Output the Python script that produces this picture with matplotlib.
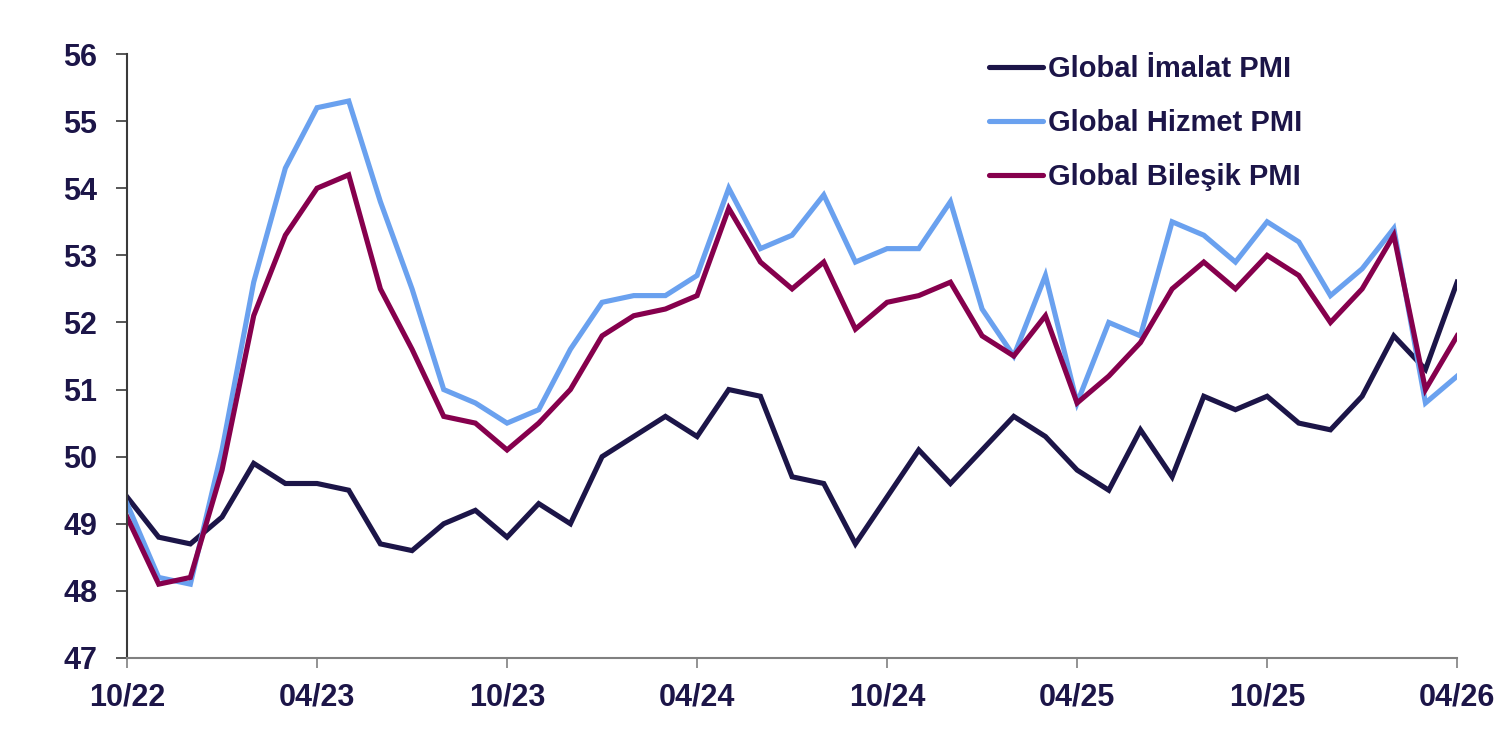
import matplotlib
matplotlib.use("Agg")
import matplotlib.pyplot as plt
import numpy as np

plt.rcParams['font.family'] = ['Liberation Sans', 'DejaVu Sans']

months = ["10/22","11/22","12/22","01/23","02/23","03/23","04/23","05/23","06/23","07/23","08/23","09/23",
          "10/23","11/23","12/23","01/24","02/24","03/24","04/24","05/24","06/24","07/24","08/24","09/24",
          "10/24","11/24","12/24","01/25","02/25","03/25","04/25","05/25","06/25","07/25","08/25","09/25",
          "10/25","11/25","12/25","01/26","02/26","03/26","04/26"]

imalat = [49.4, 48.8, 48.7, 49.1, 49.9, 49.6, 49.6, 49.5, 48.7, 48.6, 49.0, 49.2,
          48.8, 49.3, 49.0, 50.0, 50.3, 50.6, 50.3, 51.0, 50.9, 49.7, 49.6, 48.7,
          49.4, 50.1, 49.6, 50.1, 50.6, 50.3, 49.8, 49.5, 50.4, 49.7, 50.9, 50.7,
          50.9, 50.5, 50.4, 50.9, 51.8, 51.3, 52.6]
hizmet = [49.3, 48.2, 48.1, 50.1, 52.6, 54.3, 55.2, 55.3, 53.8, 52.5, 51.0, 50.8,
          50.5, 50.7, 51.6, 52.3, 52.4, 52.4, 52.7, 54.0, 53.1, 53.3, 53.9, 52.9,
          53.1, 53.1, 53.8, 52.2, 51.5, 52.7, 50.8, 52.0, 51.8, 53.5, 53.3, 52.9,
          53.5, 53.2, 52.4, 52.8, 53.4, 50.8, 51.2]
bilesik = [49.1, 48.1, 48.2, 49.8, 52.1, 53.3, 54.0, 54.2, 52.5, 51.6, 50.6, 50.5,
           50.1, 50.5, 51.0, 51.8, 52.1, 52.2, 52.4, 53.7, 52.9, 52.5, 52.9, 51.9,
           52.3, 52.4, 52.6, 51.8, 51.5, 52.1, 50.8, 51.2, 51.7, 52.5, 52.9, 52.5,
           53.0, 52.7, 52.0, 52.5, 53.3, 51.0, 51.8]

labels = ["Global İmalat PMI", "Global Hizmet PMI", "Global Bileşik PMI"]
colors = ["#1c1548", "#6aa1ef", "#86004d"]
text_color = "#1c1548"

fig = plt.figure(figsize=(15.05, 7.31), dpi=100)
ax = fig.add_axes([0.0844, 0.0999, 0.8838, 0.8262])

x = np.arange(len(months))
for series, lab, col in zip([imalat, hizmet, bilesik], labels, colors):
    ax.plot(x, series, color=col, lw=3.7, label=lab, solid_joinstyle='miter')

ax.set_xlim(0, len(months) - 1)
ax.set_ylim(47, 56)
ax.set_yticks(np.arange(47, 57, 1))
ax.set_xticks(x[::6])
ax.set_xticklabels(months[::6])

for s in ['top', 'right']:
    ax.spines[s].set_visible(False)
ax.spines['left'].set_color('#3a3a3a')
ax.spines['bottom'].set_color('#808080')
for s in ['left', 'bottom']:
    ax.spines[s].set_linewidth(1.5)

ax.tick_params(axis='y', direction='out', length=8, width=1.2, color='#3a3a3a',
               labelsize=22, labelcolor=text_color, pad=13.5)
ax.tick_params(axis='x', direction='out', length=7, width=1.2, color='#808080',
               labelsize=22, labelcolor=text_color, pad=11)
for lbl in ax.get_xticklabels() + ax.get_yticklabels():
    lbl.set_fontweight('bold')

leg = ax.legend(loc='upper left', bbox_to_anchor=(0.639, 1.018), frameon=False,
                prop={'size': 21, 'weight': 'bold'}, handlelength=1.88,
                handletextpad=0.17, labelspacing=0.89, borderaxespad=0.0)
for t in leg.get_texts():
    t.set_color(text_color)
for h in leg.get_lines():
    h.set_linewidth(3.7)
    h.set_solid_capstyle('round')

fig.savefig("out.png", dpi=100)
